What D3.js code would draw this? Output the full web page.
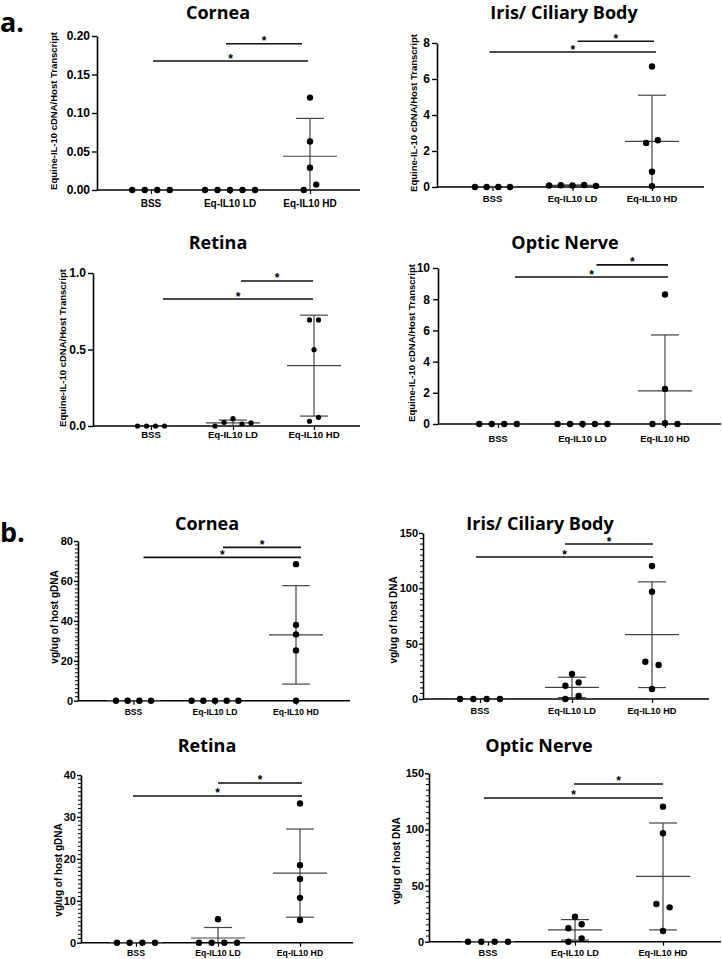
<!DOCTYPE html>
<html><head><meta charset="utf-8">
<script src="https://cdn.jsdelivr.net/npm/d3@7"></script>
<style>body{margin:0;background:#fff}svg{display:block}</style>
</head><body>
<svg id="c" width="722" height="959"></svg>
<script>
// ---------------- DATA ----------------
const groups = ["BSS", "Eq-IL10 LD", "Eq-IL10 HD"];
const panelTitles = ["Cornea", "Iris/ Ciliary Body", "Retina", "Optic Nerve",
                     "Cornea", "Iris/ Ciliary Body", "Retina", "Optic Nerve"];
const yTitles = ["Equine-IL-10 cDNA/Host Transcript", "Equine-IL-10 cDNA/Host Transcript",
                 "Equine-IL-10 cDNA/Host Transcript", "Equine-IL-10 cDNA/Host Transcript",
                 "vg/ug of host gDNA", "vg/ug of host DNA", "vg/ug of host gDNA", "vg/ug of host DNA"];
const sectionLabels = ["a.", "b."];

// a. Equine-IL-10 cDNA / host transcript  (per group: BSS, LD, HD)
const aCornea = [[0, 0, 0, 0], [0, 0, 0, 0, 0], [0.12, 0.063, 0.029, 0, 0.007]];
const aIris   = [[0, 0, 0, 0], [0.08, 0.1, 0.09, 0.11, 0.06], [6.7, 2.45, 2.6, 0.85, 0.05]];
const aRetina = [[0, 0, 0, 0], [0, 0.024, 0.048, 0.013, 0.02], [0.693, 0.693, 0.499, 0.031, 0.057]];
const aOptic  = [[0, 0, 0, 0], [0, 0, 0, 0, 0], [8.3, 2.25, 0, 0.05, 0]];
// b. vector genomes / ug host DNA
const bCornea = [[0, 0, 0, 0], [0, 0, 0, 0, 0], [68.4, 38, 33.2, 25.2, 0]];
const bIris   = [[0, 0, 0, 0], [0, 2.7, 12, 15, 22.6], [120.2, 97, 33.7, 30.7, 9]];
const bRetina = [[0, 0, 0, 0], [0, 0, 5.6, 0, 0], [33.2, 18.5, 15.2, 10.7, 5.4]];
const bOptic  = [[0, 0, 0, 0], [0, 3, 12, 15.5, 22.3], [120.3, 96.6, 33.6, 30.6, 9.5]];

// y-axis ticks and their labels
const aCorneaTicks = [0, 0.05, 0.10, 0.15, 0.20], aCorneaTickLabels = ["0.00", "0.05", "0.10", "0.15", "0.20"];
const aIrisTicks = [0, 2, 4, 6, 8], aIrisTickLabels = ["0", "2", "4", "6", "8"];
const aRetinaTicks = [0, 0.5, 1.0], aRetinaTickLabels = ["0.0", "0.5", "1.0"];
const aOpticTicks = [0, 2, 4, 6, 8, 10], aOpticTickLabels = ["0", "2", "4", "6", "8", "10"];
const bCorneaTicks = [0, 20, 40, 60, 80], bCorneaTickLabels = ["0", "20", "40", "60", "80"];
const bIrisTicks = [0, 50, 100, 150], bIrisTickLabels = ["0", "50", "100", "150"];
const bRetinaTicks = [0, 10, 20, 30, 40], bRetinaTickLabels = ["0", "10", "20", "30", "40"];
const bOpticTicks = [0, 50, 100, 150], bOpticTickLabels = ["0", "50", "100", "150"];

// significance brackets: [fromGroup, toGroup, yValue]
const aCorneaSig = [[1, 2, 0.19], [0, 2, 0.1675]];
const aIrisSig   = [[1, 2, 8.1], [0, 2, 7.5]];
const aRetinaSig = [[1, 2, 0.948], [0, 2, 0.83]];
const aOpticSig  = [[1, 2, 10.2], [0, 2, 9.42]];
const bCorneaSig = [[1, 2, 76.8], [0, 2, 71.8]];
const bIrisSig   = [[1, 2, 140], [0, 2, 128.3]];
const bRetinaSig = [[1, 2, 38.1], [0, 2, 35]];
const bOpticSig  = [[1, 2, 140.5], [0, 2, 128]];

// ---------------- LAYOUT (positions / styles) ----------------
const panels = [
  {data: aCornea, ticks: aCorneaTicks, tl: aCorneaTickLabels, sig: aCorneaSig,
   ax: 97, xEnd: 360, y0: 190, y1: 36, cats: [151, 230, 310], tx: 218, ty: 19, ly: 207, ls: 10,
   ytx: 53, yty: 111, yts: 9.5, tks: 12, tsz: 5, tpad: 2, r: 3.2, sp: 12.5, sigOff: [[-4, -8], [2, -2]], minor: null},
  {data: aIris, ticks: aIrisTicks, tl: aIrisTickLabels, sig: aIrisSig,
   ax: 437, xEnd: 704, y0: 187, y1: 43, cats: [492.5, 572.5, 652], tx: 564, ty: 19, ly: 202, ls: 9.5,
   ytx: 413, yty: 113, yts: 9.5, tks: 12, tsz: 5, tpad: 2, r: 3.2, sp: 11.7, sigOff: [[5, 2], [-3, 4]], minor: null},
  {data: aRetina, ticks: aRetinaTicks, tl: aRetinaTickLabels, sig: aRetinaSig,
   ax: 93, xEnd: 360, y0: 426, y1: 273, cats: [151, 233, 314], tx: 218, ty: 249, ly: 438, ls: 9.6,
   ytx: 62, yty: 348, yts: 9.5, tks: 12, tsz: 5, tpad: 2, r: 2.6, sp: 9, sigOff: [[8, -1], [12, -1]], minor: null},
  {data: aOptic, ticks: aOpticTicks, tl: aOpticTickLabels, sig: aOpticSig,
   ax: 438, xEnd: 721, y0: 424, y1: 268, cats: [498, 582.5, 665], tx: 565, ty: 249, ly: 442, ls: 9.3,
   ytx: 411, yty: 343, yts: 9.5, tks: 12, tsz: 5, tpad: 3, r: 3.2, sp: 12.5, sigOff: [[14, 3], [17, 3]], minor: null},
  {data: bCornea, ticks: bCorneaTicks, tl: bCorneaTickLabels, sig: bCorneaSig,
   ax: 78, xEnd: 350, y0: 700.7, y1: 541, cats: [133.5, 215, 296], tx: 207, ty: 530, ly: 715, ls: 8.6,
   ytx: 54, yty: 617, yts: 10, tks: 11, tsz: 4, tpad: 1, r: 3.2, sp: 11.7, sigOff: [[8, 5], [10, 5]], minor: 2},
  {data: bIris, ticks: bIrisTicks, tl: bIrisTickLabels, sig: bIrisSig,
   ax: 423, xEnd: 709, y0: 699, y1: 533, cats: [480, 572, 652], tx: 540, ty: 530, ly: 714, ls: 9.2,
   ytx: 393, yty: 620, yts: 10, tks: 11, tsz: 4, tpad: 1, r: 3.2, sp: 13.3, sigOff: [[-7, 1], [-4, 1]], minor: 5},
  {data: bRetina, ticks: bRetinaTicks, tl: bRetinaTickLabels, sig: bRetinaSig,
   ax: 81, xEnd: 353, y0: 942.7, y1: 775, cats: [136, 218, 300], tx: 207, ty: 752, ly: 956, ls: 8.7,
   ytx: 58, yty: 870, yts: 10, tks: 11, tsz: 4, tpad: 1, r: 3.2, sp: 12.7, sigOff: [[0, 2], [-3, 2]], minor: 1},
  {data: bOptic, ticks: bOpticTicks, tl: bOpticTickLabels, sig: bOpticSig,
   ax: 429, xEnd: 721, y0: 941.7, y1: 773.3, cats: [488, 575, 663], tx: 539, ty: 752, ly: 956, ls: 9.2,
   ytx: 396, yty: 861, yts: 10, tks: 11, tsz: 4, tpad: 1, r: 3.2, sp: 13.3, sigOff: [[-1, 0], [-4, 0]], minor: 5}
];

const svg = d3.select("#c");
const ARIAL = "'Liberation Sans', Arial, sans-serif";
const TITLEF = "'Open Sans', 'Noto Sans', sans-serif";

svg.append("text").attr("x", 0).attr("y", 32).text(sectionLabels[0])
  .attr("font-family", TITLEF).attr("font-weight", 700).attr("font-size", 27).attr("fill", "#000");
svg.append("text").attr("x", 0).attr("y", 542).text(sectionLabels[1])
  .attr("font-family", TITLEF).attr("font-weight", 700).attr("font-size", 27).attr("fill", "#000");

panels.forEach((p, pi) => {
  const g = svg.append("g");
  const dom = [0, p.ticks[p.ticks.length - 1]];
  const y = d3.scaleLinear().domain(dom).range([p.y0, p.y1]);
  const x = d3.scaleOrdinal().domain(groups).range(p.cats);

  // title
  g.append("text").attr("x", p.tx).attr("y", p.ty).attr("text-anchor", "middle")
    .attr("font-family", TITLEF).attr("font-weight", 700).attr("font-size", 18)
    .text(panelTitles[pi]);

  // y title
  g.append("text").attr("transform", `translate(${p.ytx},${p.yty}) rotate(-90)`)
    .attr("text-anchor", "middle").attr("dominant-baseline", "central")
    .attr("font-family", ARIAL).attr("font-weight", 700).attr("font-size", p.yts)
    .text(yTitles[pi]);

  // minor ticks
  if (p.minor) {
    const minors = d3.range(0, dom[1] + 1e-9, p.minor).filter(v => !p.ticks.some(t => Math.abs(t - v) < 1e-9));
    g.append("g").selectAll("line").data(minors).join("line")
      .attr("x1", p.ax - 3).attr("x2", p.ax).attr("y1", d => y(d)).attr("y2", d => y(d))
      .attr("stroke", "#000").attr("stroke-width", 1);
  }

  // y axis
  const yAx = g.append("g").attr("transform", `translate(${p.ax},0)`)
    .call(d3.axisLeft(y).tickValues(p.ticks).tickFormat((d, i) => p.tl[i])
      .tickSize(p.tsz).tickSizeOuter(0).tickPadding(p.tpad));
  yAx.select(".domain").attr("stroke-width", 1.6);
  yAx.selectAll(".tick line").attr("stroke-width", 1.4);
  yAx.selectAll("text").attr("font-family", ARIAL).attr("font-weight", 700).attr("font-size", p.tks).attr("fill", "#000");

  // x axis
  const xAx = g.append("g").attr("transform", `translate(0,${p.y0})`)
    .call(d3.axisBottom(x).tickSize(4).tickSizeOuter(0).tickPadding(0).tickFormat(""));
  xAx.select(".domain").remove();
  xAx.selectAll(".tick line").attr("stroke-width", 1.2);
  g.append("line").attr("x1", p.ax).attr("x2", p.xEnd).attr("y1", p.y0).attr("y2", p.y0)
    .attr("stroke", "#000").attr("stroke-width", 1.6);
  g.append("g").selectAll("text").data(groups).join("text")
    .attr("x", d => x(d)).attr("y", p.ly).attr("text-anchor", "middle")
    .attr("font-family", ARIAL).attr("font-weight", 700).attr("font-size", p.ls).text(d => d);

  // error bars: mean ± SD
  const eb = g.append("g").attr("stroke", "#444").attr("stroke-width", 1.2).attr("fill", "none");
  p.data.forEach((vals, gi) => {
    const m = d3.mean(vals), s = d3.deviation(vals) || 0;
    const cx = x(groups[gi]);
    const hi = m + s, lo = Math.max(0, m - s);
    if (s > 0) {
      eb.append("line").attr("x1", cx).attr("x2", cx).attr("y1", y(lo)).attr("y2", y(hi));
      eb.append("line").attr("x1", cx - 14).attr("x2", cx + 14).attr("y1", y(hi)).attr("y2", y(hi));
      if (m - s > 0) eb.append("line").attr("x1", cx - 14).attr("x2", cx + 14).attr("y1", y(lo)).attr("y2", y(lo));
    }
    eb.append("line").attr("x1", cx - 27).attr("x2", cx + 27).attr("y1", y(m)).attr("y2", y(m));
  });

  // points with row-based spreading (GraphPad style)
  const pts = [];
  p.data.forEach((vals, gi) => {
    const items = vals.map((v, i) => ({v, i, py: y(v)}));
    const sorted = items.slice().sort((a, b) => b.py - a.py);
    const rows = [];
    sorted.forEach(it => {
      const last = rows[rows.length - 1];
      if (last && Math.abs(last[last.length - 1].py - it.py) < 6.5) last.push(it);
      else rows.push([it]);
    });
    rows.forEach(row => {
      row.sort((a, b) => a.i - b.i);
      const n = row.length;
      row.forEach((it, j) => pts.push({cx: x(groups[gi]) + (j - (n - 1) / 2) * p.sp, cy: it.py}));
    });
  });
  g.append("g").selectAll("circle").data(pts).join("circle")
    .attr("cx", d => d.cx).attr("cy", d => d.cy).attr("r", p.r).attr("fill", "#000");

  // significance brackets
  p.sig.forEach((s, si) => {
    const xa = x(groups[s[0]]) + p.sigOff[si][0], xb = x(groups[s[1]]) + p.sigOff[si][1];
    const yy = y(s[2]);
    g.append("line").attr("x1", xa).attr("x2", xb).attr("y1", yy).attr("y2", yy)
      .attr("stroke", "#111").attr("stroke-width", 1.6);
    g.append("text").attr("x", (xa + xb) / 2).attr("y", yy + 1.5).attr("text-anchor", "middle")
      .attr("font-family", ARIAL).attr("font-weight", 700).attr("font-size", 12).text("*");
  });
});
</script>
</body></html>
